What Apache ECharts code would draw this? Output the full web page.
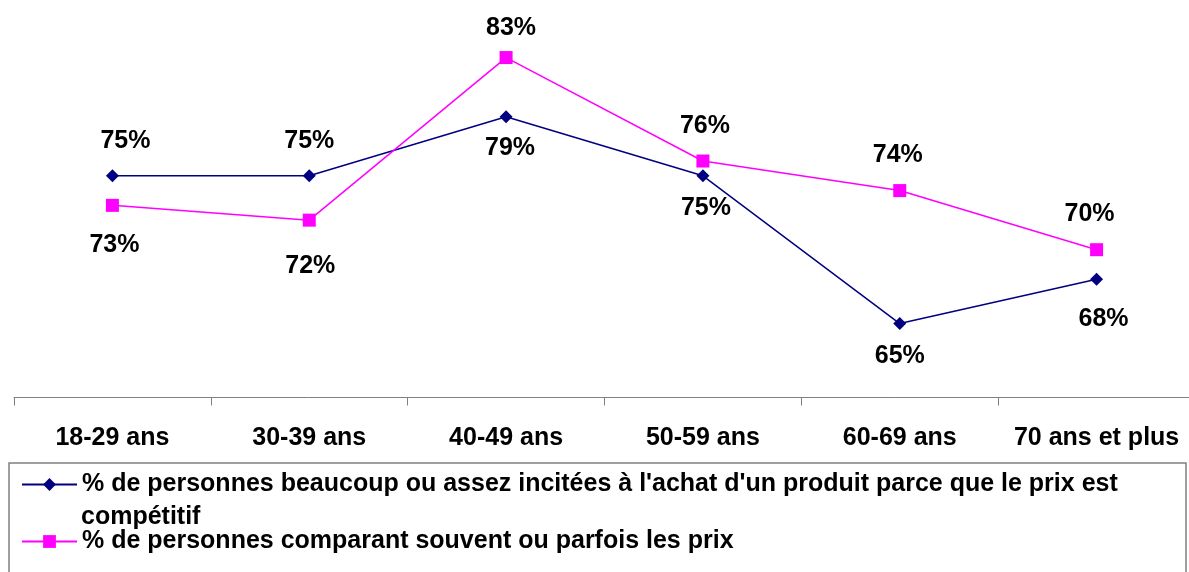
<!DOCTYPE html>
<html>
<head>
<meta charset="utf-8">
<script src="https://cdn.jsdelivr.net/npm/echarts@6/dist/echarts.min.js"></script>
<style>
  html, body { margin: 0; padding: 0; background: #fff; }
  #chart { width: 1189px; height: 572px; }
</style>
</head>
<body>
<div id="chart"></div>
<script>
// tranches d'âge
var ageGroups = ['18-29 ans', '30-39 ans', '40-49 ans', '50-59 ans', '60-69 ans', '70 ans et plus'];

var seriesNames = [
  "% de personnes beaucoup ou assez incitées à l'achat d'un produit parce que le prix est compétitif",
  '% de personnes comparant souvent ou parfois les prix'
];

// valeurs en %
var incitesPrix = [75, 75, 79, 75, 65, 68];
var comparentPrix = [73, 72, 83, 76, 74, 70];

// décalage des étiquettes [dx, dy] par point
var incitesLabelOffset = [[13, -35], [0, -35], [4, 31], [3, 32], [0, 33], [7, 40]];
var comparentLabelOffset = [[2, 40], [1, 46], [5, -29], [2, -35], [-2, -35], [-7, -36]];

var FONT = 'Liberation Sans, Arial, sans-serif';

function withLabels(values, offsets) {
  return values.map(function (v, i) {
    return {
      value: v,
      label: { offset: offsets[i] }
    };
  });
}

var chart = echarts.init(document.getElementById('chart'));

var labelStyle = {
  show: true,
  position: 'inside',
  formatter: '{c}%',
  color: '#000',
  fontFamily: FONT,
  fontWeight: 'bold',
  fontSize: 25
};

var option = {
  animation: false,
  backgroundColor: '#fff',
  grid: {
    left: 14,
    top: 28,
    width: 1181,
    height: 369.5,
    outerBoundsMode: 'none'
  },
  xAxis: {
    type: 'category',
    data: ageGroups,
    boundaryGap: true,
    axisLine: { lineStyle: { color: '#808080', width: 1 } },
    axisTick: { show: true, length: 8, lineStyle: { color: '#808080' } },
    axisLabel: {
      margin: 28,
      color: '#000',
      fontFamily: FONT,
      fontWeight: 'bold',
      fontSize: 25,
      interval: 0
    }
  },
  yAxis: {
    type: 'value',
    min: 60,
    max: 85,
    show: false
  },
  legend: {
    orient: 'vertical',
    left: 21,
    top: 472,
    padding: 0,
    itemGap: 32,
    itemWidth: 55,
    itemHeight: 16,
    selectedMode: false,
    textStyle: {
      color: '#000',
      fontFamily: FONT,
      fontWeight: 'bold',
      fontSize: 25
    },
    formatter: function (name) {
      return name === seriesNames[0] ? name.replace(/ compétitif$/, '') : name;
    },
    data: seriesNames
  },
  graphic: [
    {
      type: 'rect',
      z: -1,
      shape: { x: 9, y: 463, width: 1177, height: 200 },
      style: { fill: 'none', stroke: '#808080', lineWidth: 1.5 }
    },
    {
      type: 'text',
      left: 81,
      top: 505,
      style: {
        text: 'compétitif',
        fill: '#000',
        font: 'bold 25px ' + FONT
      }
    }
  ],
  series: [
    {
      name: seriesNames[0],
      type: 'line',
      data: withLabels(incitesPrix, incitesLabelOffset),
      symbol: 'diamond',
      symbolSize: 13,
      lineStyle: { color: '#000080', width: 1.5 },
      itemStyle: { color: '#000080' },
      label: labelStyle
    },
    {
      name: seriesNames[1],
      type: 'line',
      data: withLabels(comparentPrix, comparentLabelOffset),
      symbol: 'rect',
      symbolSize: 13,
      lineStyle: { color: '#FF00FF', width: 1.5 },
      itemStyle: { color: '#FF00FF' },
      label: labelStyle
    }
  ]
};

chart.setOption(option);
</script>
</body>
</html>
